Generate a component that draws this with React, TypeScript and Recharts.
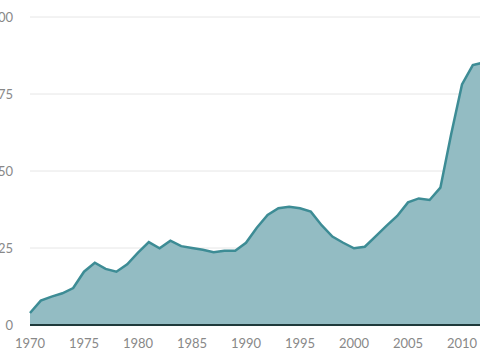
import { AreaChart, Area, XAxis, YAxis, CartesianGrid } from "recharts";

const years = [
  1970, 1971, 1972, 1973, 1974, 1975, 1976, 1977, 1978, 1979, 1980, 1981,
  1982, 1983, 1984, 1985, 1986, 1987, 1988, 1989, 1990, 1991, 1992, 1993,
  1994, 1995, 1996, 1997, 1998, 1999, 2000, 2001, 2002, 2003, 2004, 2005,
  2006, 2007, 2008, 2009, 2010, 2011, 2012,
];
const values = [
  3.9, 7.9, 9.2, 10.3, 12, 17.3, 20.2, 18.2, 17.3, 19.7, 23.5, 26.9, 24.9,
  27.4, 25.6, 25, 24.4, 23.6, 24.1, 24.1, 26.7, 31.6, 35.7, 37.9, 38.4, 37.9,
  36.8, 32.4, 28.7, 26.7, 24.9, 25.4, 28.8, 32.2, 35.4, 39.8, 41.1, 40.6,
  44.6, 62, 78.1, 84.4, 85.2,
];
const xTicks = [1970, 1975, 1980, 1985, 1990, 1995, 2000, 2005, 2010];
const yTicks = [0, 25, 50, 75, 100];

const data = years.map((year, i) => ({ year, value: values[i] }));

const FONT = "Lato, 'Open Sans', sans-serif";

function YTick({ y, payload }: any) {
  return (
    <text x={13} y={y} dy={4.5} textAnchor="end" fill="#888" fontSize={13} fontFamily={FONT}>
      {payload.value}
    </text>
  );
}

function XTick({ x, payload }: any) {
  return (
    <text x={x} y={348} textAnchor="middle" fill="#888" fontSize={13} fontFamily={FONT}>
      {payload.value}
    </text>
  );
}

export default function App() {
  return (
    <div
      style={{
        position: "fixed",
        left: 0,
        top: 0,
        width: 480,
        height: 360,
        overflow: "hidden",
        background: "#fff",
      }}
    >
      <AreaChart
        width={500}
        height={360}
        data={data}
        margin={{ top: 17, right: 16.4, bottom: 0, left: 0 }}
      >
        <CartesianGrid vertical={false} stroke="#e6e6e6" strokeWidth={1} />
        <XAxis
          dataKey="year"
          type="number"
          domain={[1970, 2012]}
          ticks={xTicks}
          tick={<XTick />}
          tickLine={false}
          axisLine={{ stroke: "#1f3a3b", strokeWidth: 2 }}
          height={35}
          interval={0}
        />
        <YAxis
          domain={[0, 100]}
          ticks={yTicks}
          tick={<YTick />}
          tickLine={false}
          axisLine={false}
          width={30}
          interval={0}
        />
        <Area
          type="linear"
          dataKey="value"
          stroke="#3d8c95"
          strokeWidth={2.5}
          fill="#93bcc3"
          fillOpacity={1}
          isAnimationActive={false}
        />
      </AreaChart>
    </div>
  );
}
